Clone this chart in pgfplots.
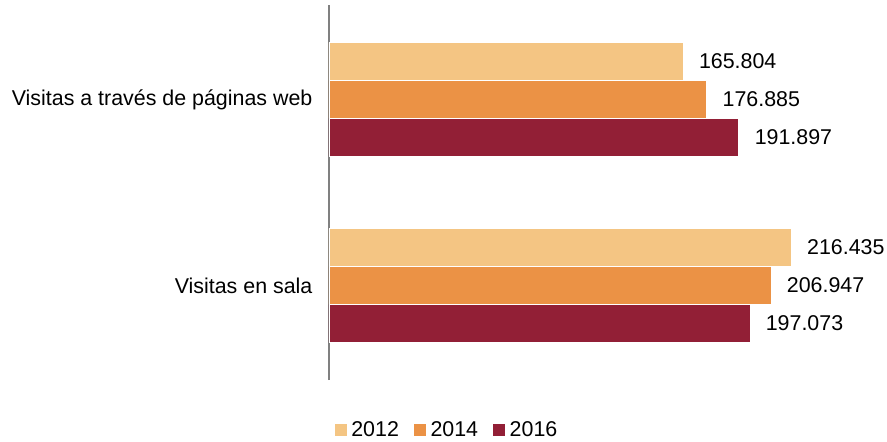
\documentclass[border=0pt]{standalone}
\usepackage{fontspec}
\setmainfont{Liberation Sans}
\usepackage{pgfplots}
\pgfplotsset{compat=1.18}
\definecolor{cA}{HTML}{F4C583}
\definecolor{cB}{HTML}{EB9245}
\definecolor{cC}{HTML}{921F36}
\begin{document}
\begin{tikzpicture}[font=\fontsize{10.7pt}{13pt}\selectfont]
\begin{axis}[
  scale only axis,
  width=279pt, height=187.5pt,
  xmin=0, xmax=261300,
  ymin=-0.508, ymax=1.508,
  xbar, bar width=0.204,
  axis x line=none,
  axis y line*=left,
  y axis line style={draw=black!50, line width=0.8pt, -},
  ytick={0,1},
  yticklabels={Visitas en sala, Visitas a través de páginas web},
  ytick style={draw=none},
  yticklabel style={xshift=-0.5pt},
  clip=false,
  point meta=explicit symbolic,
  nodes near coords,
  nodes near coords style={anchor=west, xshift=4.5pt, text=black},
  legend columns=3,
  legend style={draw=none, at={(0.2124,-0.135)}, anchor=center,
    /tikz/every even column/.append style={column sep=5pt}},
  legend image code/.code={\fill[#1] (0pt,-3pt) rectangle (6.5pt,3.5pt);},
]
\addplot[fill=cA, draw=white, line width=0.3pt, bar shift=0.204] coordinates {(216435,0) [216.435] (165804,1) [165.804]};
\addplot[fill=cB, draw=white, line width=0.3pt, bar shift=0] coordinates {(206947,0) [206.947] (176885,1) [176.885]};
\addplot[fill=cC, draw=white, line width=0.3pt, bar shift=-0.204] coordinates {(197073,0) [197.073] (191897,1) [191.897]};
\legend{2012,2014,2016}
\coordinate (bbA) at (rel axis cs:-0.5896,1.01333);
\coordinate (bbB) at (rel axis cs:1,-0.16267);
\end{axis}
\pgfresetboundingbox
\path[use as bounding box] (bbA) rectangle (bbB);
\end{tikzpicture}
\end{document}
